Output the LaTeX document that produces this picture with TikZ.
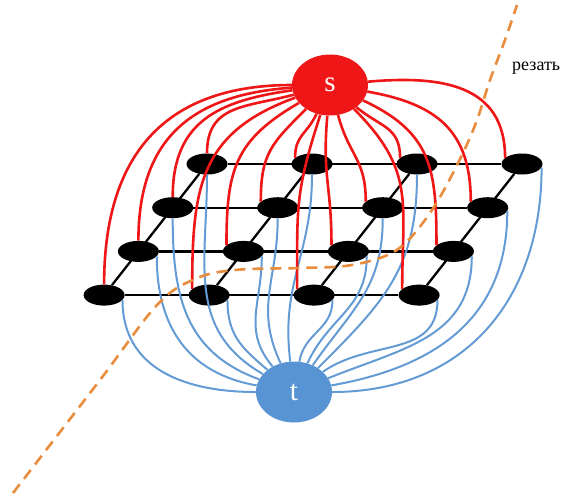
\documentclass[tikz,border=0pt]{standalone}
\usepackage{fontspec}
\setmainfont{Liberation Serif}
\usetikzlibrary{shapes.geometric}
\definecolor{sred}{RGB}{238,22,22}
\definecolor{tblue}{RGB}{88,148,212}
\definecolor{eblue}{RGB}{100,155,212}
\definecolor{cutorange}{RGB}{232,140,62}
\begin{document}
\begin{tikzpicture}[x=1pt,y=1pt,
  gridnode/.style={ellipse, fill=black, minimum width=41pt, minimum height=21pt, inner sep=0pt},
  gridedge/.style={line width=2.3pt, black},
  redarc/.style={line width=2.6pt, sred},
  bluearc/.style={line width=2.0pt, eblue},
  bignode/.style={ellipse, minimum width=76pt, minimum height=61pt, inner sep=0pt, text=white, font=\fontsize{29}{29}\selectfont},
  cutline/.style={line width=2.6pt, cutorange, dash pattern=on 11pt off 7pt}]
\useasboundingbox (0,-496) rectangle (572,0);
% grid nodes
\foreach \r in {1,...,4}
  \foreach \c in {1,...,4}
    \node[gridnode] (n\r\c) at ({207-34.3*(\r-1)+105*(\c-1)}, {-164-43.7*(\r-1)}) {};
% grid edges
\foreach \r in {1,...,4} \draw[gridedge] (n\r1) -- (n\r4);
\foreach \c in {1,...,4} \draw[gridedge] (n4\c) -- (n1\c);
% source and sink
\node[bignode, fill=sred] (s) at (330,-85) {s};
\node[bignode, fill=tblue] (t) at (294,-392) {t};
% blue arcs to t
\foreach \n/\a/\i in {n41/-15/180, n31/-15/170, n21/south/160, n11/south/150,
                      n42/-15/140, n32/-15/130, n22/south/115, n12/south/97,
                      n43/-15/80, n33/-15/65, n23/south/55, n13/south/45,
                      n44/-15/35, n34/-15/22, n24/-10/10, n14/-10/0}
  \draw[bluearc] (\n.\a) to[out=-90,in=\i,looseness=1.1] (t);
% red arcs from s
\foreach \n/\a/\o in {n41/north/180, n31/north/184, n21/north/188, n11/north/195,
                      n42/160/200, n32/160/210, n22/160/225, n12/160/245,
                      n43/160/252, n33/160/265, n23/160/285, n13/160/320,
                      n44/160/315, n34/160/335, n24/160/350, n14/160/5}
  \draw[redarc] (s) to[out=\o,in=90,looseness=1.2] (\n.\a);
% cut line
\draw[cutline] plot[smooth, tension=0.6] coordinates {(13,-493) (100,-380) (157,-305) (195,-279) (235,-270) (300,-268) (345,-266) (380,-258) (402,-246) (422,-224) (440,-197) (462,-155) (477,-120) (490,-80) (505,-40) (517,-5)};
\node[anchor=base west, font=\fontsize{18}{18}\selectfont, inner sep=0pt] (cut) at (512,-70) {резать};
\end{tikzpicture}
\end{document}
